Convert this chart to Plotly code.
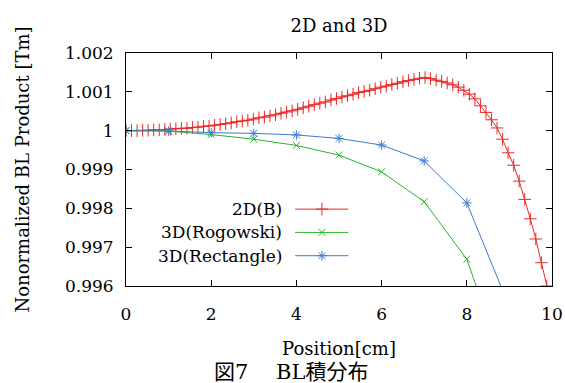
import plotly.graph_objects as go

# ---- data ----
x_2d = [0.00, 0.13, 0.26, 0.39, 0.52, 0.65, 0.78, 0.91, 1.04, 1.17,
        1.30, 1.43, 1.56, 1.69, 1.82, 1.95, 2.08, 2.21, 2.34, 2.47,
        2.60, 2.73, 2.86, 2.99, 3.12, 3.25, 3.38, 3.51, 3.64, 3.77,
        3.90, 4.03, 4.16, 4.29, 4.42, 4.55, 4.68, 4.81, 4.94, 5.07,
        5.20, 5.33, 5.46, 5.59, 5.72, 5.85, 5.98, 6.11, 6.24, 6.37,
        6.50, 6.63, 6.76, 6.89, 7.02, 7.15, 7.28, 7.41, 7.54, 7.67,
        7.80, 7.93, 8.06, 8.19, 8.32, 8.45, 8.58, 8.71, 8.84, 8.97,
        9.10, 9.23, 9.36, 9.49, 9.62, 9.75, 9.88]
y_2d = [1.00000, 1.00000, 1.00000, 1.00001, 1.00001, 1.00002, 1.00002, 1.00003, 1.00004, 1.00005,
        1.00006, 1.00006, 1.00008, 1.00009, 1.00011, 1.00012, 1.00014, 1.00016, 1.00018, 1.00020,
        1.00023, 1.00025, 1.00027, 1.00030, 1.00033, 1.00035, 1.00038, 1.00041, 1.00045, 1.00048,
        1.00051, 1.00055, 1.00059, 1.00063, 1.00067, 1.00071, 1.00074, 1.00079, 1.00083, 1.00087,
        1.00090, 1.00094, 1.00098, 1.00101, 1.00104, 1.00108, 1.00112, 1.00115, 1.00119, 1.00122,
        1.00126, 1.00129, 1.00132, 1.00135, 1.00137, 1.00134, 1.00130, 1.00127, 1.00123, 1.00118,
        1.00112, 1.00104, 1.00094, 1.00082, 1.00064, 1.00047, 1.00028, 1.00007, 0.99978, 0.99943,
        0.99911, 0.99870, 0.99823, 0.99773, 0.99721, 0.99660, 0.99600]

x_3d = [0, 1, 2, 3, 4, 5, 6, 7, 8, 9]
y_rogowski = [1.00000, 0.99999, 0.99990, 0.99978, 0.99962, 0.99937, 0.99894, 0.99817, 0.99669, 0.99355]
y_rectangle = [1.00000, 0.99999, 0.99995, 0.99993, 0.99989, 0.99980, 0.99963, 0.99922, 0.99814, 0.99546]

names = ["2D(B)", "3D(Rogowski)", "3D(Rectangle)"]
y_tickvals = [0.996, 0.997, 0.998, 0.999, 1.0, 1.001, 1.002]
y_ticktext = ["0.996", "0.997", "0.998", "0.999", "1", "1.001", "1.002"]
x_tickvals = [0, 2, 4, 6, 8, 10]

# ---- styles ----
RED = "rgb(236,40,40)"
GREEN = "rgb(40,180,40)"
BLUE = "rgb(60,125,205)"
FONT = "DejaVu Serif"
CJK = "DejaVu Serif, Noto Sans CJK JP"

series = [
    (x_2d, y_2d, RED, "cross-thin", 9),
    (x_3d, y_rogowski, GREEN, "x-thin", 7),
    (x_3d, y_rectangle, BLUE, "asterisk", 8),
]

fig = go.Figure()
for (xs, ys, col, sym, sz), nm in zip(series, names):
    fig.add_trace(go.Scatter(
        x=xs, y=ys, mode="lines+markers", name=nm, showlegend=False,
        line=dict(color=col, width=1),
        marker=dict(symbol=sym, size=sz, color=col, line=dict(color=col, width=1)),
    ))

# custom gnuplot-style key: text right-aligned, sample on the right
key_rows = [0.330, 0.230, 0.130]
key_x0, key_x1, key_xm, key_text_x = 0.397, 0.522, 0.46, 0.372
for (xs, ys, col, sym, sz), nm, ky in zip(series, names, key_rows):
    fig.add_trace(go.Scatter(
        x=[key_x0, key_x1], y=[ky, ky], xaxis="x2", yaxis="y2", mode="lines",
        line=dict(color=col, width=1), showlegend=False, hoverinfo="skip"))
    fig.add_trace(go.Scatter(
        x=[key_xm], y=[ky], xaxis="x2", yaxis="y2", mode="markers",
        marker=dict(symbol=sym, size=sz, color=col, line=dict(color=col, width=1)),
        showlegend=False, hoverinfo="skip"))
    fig.add_annotation(
        text=nm, xref="paper", yref="paper", x=key_text_x, y=ky,
        xanchor="right", yanchor="middle", showarrow=False,
        font=dict(family=FONT, size=17, color="black"))

fig.add_annotation(
    text="図7　 BL積分布", xref="paper", yref="paper", x=0.388, y=-0.37,
    xanchor="center", yanchor="middle", showarrow=False,
    font=dict(family=CJK, size=21, color="black"))

axis_common = dict(
    showline=True, linecolor="black", linewidth=1, mirror="ticks",
    ticks="inside", ticklen=6, tickcolor="black", tickwidth=1,
    showgrid=False, zeroline=False, automargin=False, ticklabeloverflow="allow",
    tickfont=dict(family=FONT, size=17, color="black"),
)

fig.update_layout(
    width=565, height=383,
    margin=dict(l=126, r=13, t=53, b=97),
    paper_bgcolor="white", plot_bgcolor="white",
    title=dict(text="2D and 3D", x=0.6, xanchor="center", y=0.932, yanchor="middle",
               font=dict(family=FONT, size=18, color="black")),
    xaxis=dict(range=[0, 10], tickvals=x_tickvals, ticklabelstandoff=13, **axis_common,
               title=dict(text="Position[cm]", standoff=18,
                          font=dict(family=FONT, size=18, color="black"))),
    yaxis=dict(range=[0.996, 1.002], tickvals=y_tickvals, ticktext=y_ticktext,
               ticklabelstandoff=8, **axis_common,
               title=dict(text="Nonormalized BL Product [Tm]", standoff=30,
                          font=dict(family=FONT, size=18, color="black"))),
    xaxis2=dict(range=[0, 1], overlaying="x", visible=False, fixedrange=True),
    yaxis2=dict(range=[0, 1], overlaying="y", visible=False, fixedrange=True),
    showlegend=False,
)

# remove the browser's default 8px page margin so the 565x383 figure fills the window
fig.write_html("out.html",
               config={"displayModeBar": False},
               post_script="document.body.style.margin='0';document.body.style.overflow='hidden';")
